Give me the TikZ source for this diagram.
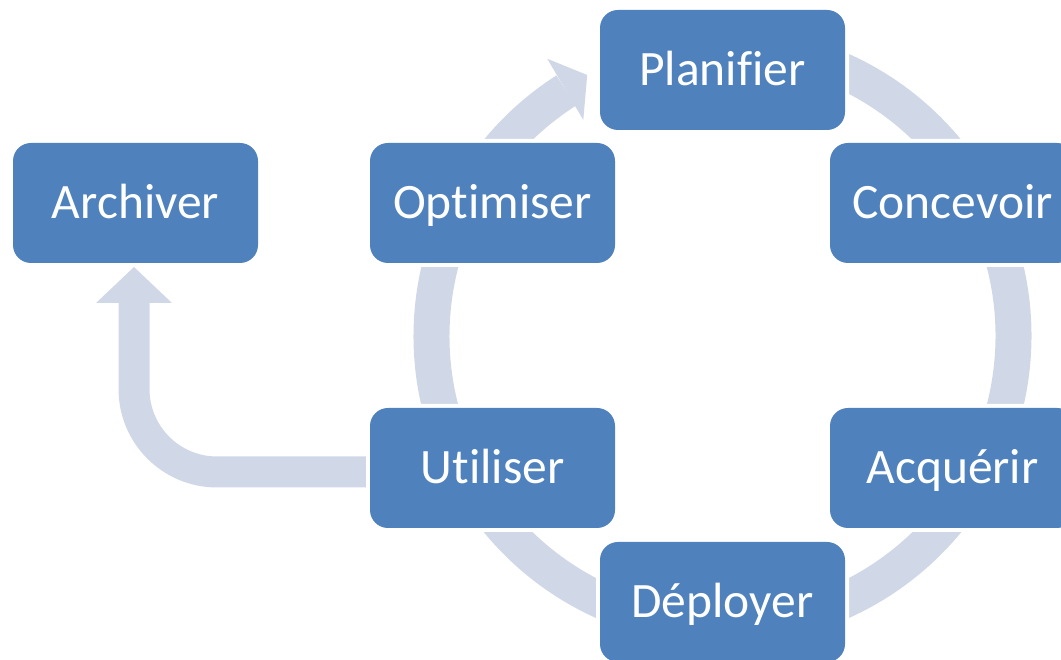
\documentclass[tikz,border=0pt]{standalone}
\usepackage{fontspec}
\setmainfont{Carlito}[RawFeature=-liga]
\usetikzlibrary{calc}
\definecolor{boxblue}{HTML}{4F81BD}
\definecolor{ringc}{HTML}{D0D8E8}
\begin{document}
\begin{tikzpicture}[x=1pt,y=1pt,
  stage/.style={rectangle, rounded corners=18pt, fill=boxblue,
    minimum width=245pt, minimum height=120pt, inner sep=0pt,
    text=white, font=\fontsize{49.5}{59}\selectfont,
    text height=31.9pt, text depth=0pt,
    preaction={draw=white, line width=8pt}},
  ringline/.style={draw=ringc, line width=36pt, line cap=butt},
  archline/.style={draw=ringc, line width=31pt, line cap=butt},
  headfill/.style={fill=ringc, draw=none}]
\useasboundingbox (0,0) rectangle (1061,660);

% node positions (coordinates only, nodes drawn later on top)
\coordinate (pP) at (722.5,590);
\coordinate (pD) at (722.5,58);
\coordinate (c) at ($(pP)!0.5!(pD)$);

% ring (cycle connector), from under Planifier clockwise to Optimiser->Planifier head
\draw[ringline] ($(c)+(85:291)$) arc[start angle=85, end angle=-237.5, radius=291];
\fill[headfill] ($(c)+(122.3:328)$) -- ($(c)+(117.4:294)$) -- ($(c)+(122.8:257)$) -- cycle;

% arrow from Utiliser to Archiver
\coordinate (u0) at (480,188);
\coordinate (k1) at (217,188);
\coordinate (k2) at (134,357);
\draw[archline] (u0) -- (k1) arc[start angle=270, end angle=180, radius=83] -- (k2);
\fill[headfill] ($(k2)+(-38,0)$) -- ($(k2)+(38,0)$) -- ($(k2)+(0,36)$) -- cycle;

% boxes
\node[stage] (plan) at (pP) {Planifier};
\node[stage] (conc) at (952.5,457) {Concevoir};
\node[stage] (acq)  at (952.5,192) {Acquérir};
\node[stage] (depl) at (pD) {Déployer};
\node[stage] (util) at (492.5,192) {Utiliser};
\node[stage] (opt)  at (492.5,457) {Optimiser};
\node[stage] (arch) at (135.5,457) {Archiver};
\end{tikzpicture}
\end{document}
